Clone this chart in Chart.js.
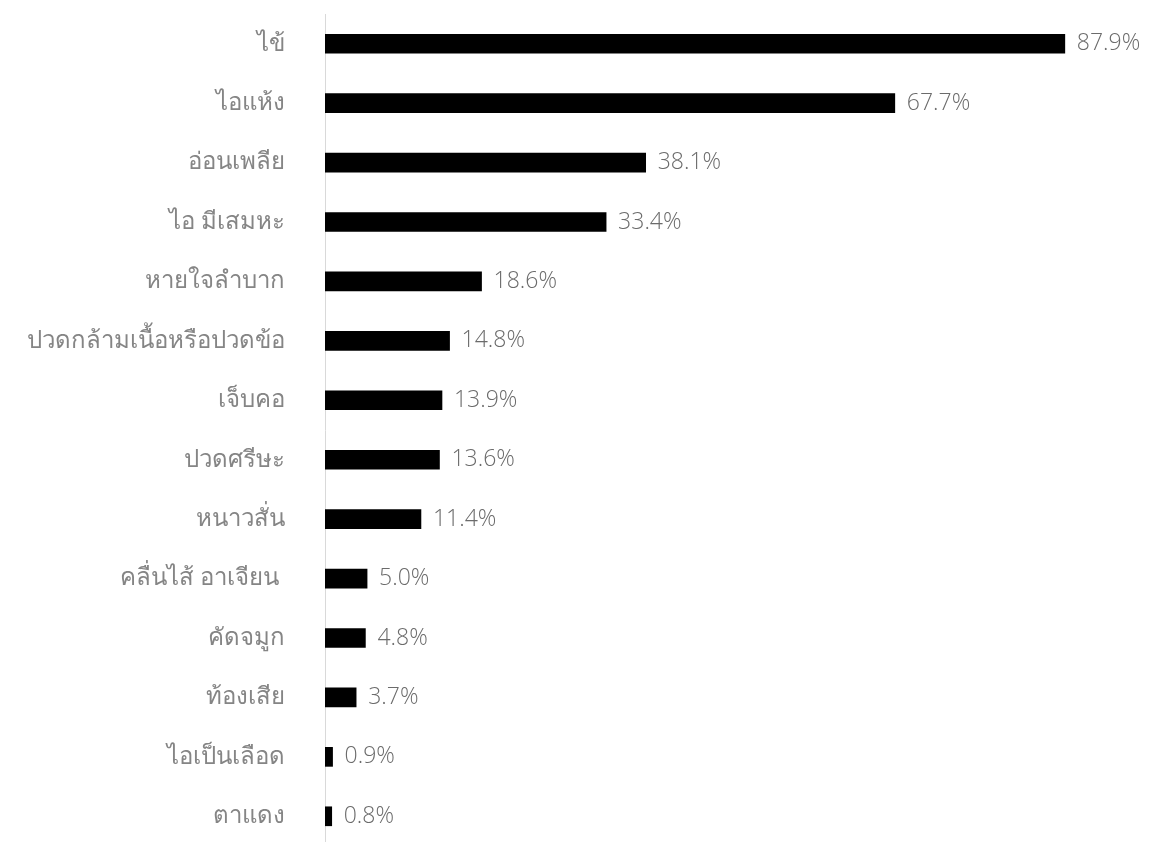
<!DOCTYPE html>
<html>
<head>
<meta charset="utf-8">
<script src="https://cdn.jsdelivr.net/npm/chart.js@4"></script>
<style>
  html, body { margin: 0; padding: 0; background: #fff; overflow: hidden; }
  #wrap { width: 1149px; height: 846px; position: relative; }
</style>
</head>
<body>
<div id="wrap"><canvas id="chart-bar-symptoms"></canvas></div>
<script>
// symptoms, top to bottom
var symptomLabels = ['ไข้', 'ไอแห้ง', 'อ่อนเพลีย', 'ไอ มีเสมหะ', 'หายใจลำบาก', 'ปวดกล้ามเนื้อหรือปวดข้อ', 'เจ็บคอ', 'ปวดศรีษะ', 'หนาวสั่น', 'คลื่นไส้ อาเจียน ', 'คัดจมูก', 'ท้องเสีย', 'ไอเป็นเลือด', 'ตาแดง'];
var symptomPercent = [87.9, 67.7, 38.1, 33.4, 18.6, 14.8, 13.9, 13.6, 11.4, 5.0, 4.8, 3.7, 0.9, 0.8];

const textColor = '#6b6b6b';
const fontFamily = "'Open Sans', 'Noto Sans', sans-serif";

// draws the "87.9%" labels at the end of each bar
const valueLabels = {
    id: 'valueLabels',
    afterDatasetsDraw(chart) {
        const ctx = chart.ctx;
        const meta = chart.getDatasetMeta(0);
        ctx.save();
        ctx.fillStyle = textColor;
        ctx.font = '300 23px ' + fontFamily;
        ctx.textBaseline = 'middle';
        ctx.textAlign = 'left';
        meta.data.forEach(function(bar, i) {
            ctx.fillText(symptomPercent[i].toFixed(1) + '%', bar.x + 12, bar.y);
        });
        ctx.restore();
    }
};

const el = document.getElementById('chart-bar-symptoms');
let symptomChart = new Chart(el.getContext('2d'), {
    type: 'bar',
    data: {
        labels: symptomLabels,
        datasets: [{
            data: symptomPercent,
            backgroundColor: '#000000',
            borderWidth: 0,
            barThickness: 19
        }]
    },
    options: {
        indexAxis: 'y',
        responsive: true,
        maintainAspectRatio: false,
        animation: false,
        layout: { padding: { top: 14, right: 0, bottom: 0, left: 0 } },
        plugins: {
            legend: { display: false },
            tooltip: { enabled: false }
        },
        scales: {
            x: {
                display: false,
                min: 0,
                max: 97.9
            },
            y: {
                grid: { display: true, drawOnChartArea: false, drawTicks: false, color: 'transparent' },
                border: { display: true, color: '#d9d9d9', width: 1 },
                ticks: {
                    color: '#858585',
                    padding: 40,
                    font: { family: fontFamily, size: 24, weight: '300' }
                },
                afterFit: function(scale) {
                    scale.width = 325;
                    // tick padding would otherwise be added above and below
                    scale.paddingTop = 0;
                    scale.paddingBottom = 0;
                }
            }
        }
    },
    plugins: [valueLabels]
});
</script>
</body>
</html>
